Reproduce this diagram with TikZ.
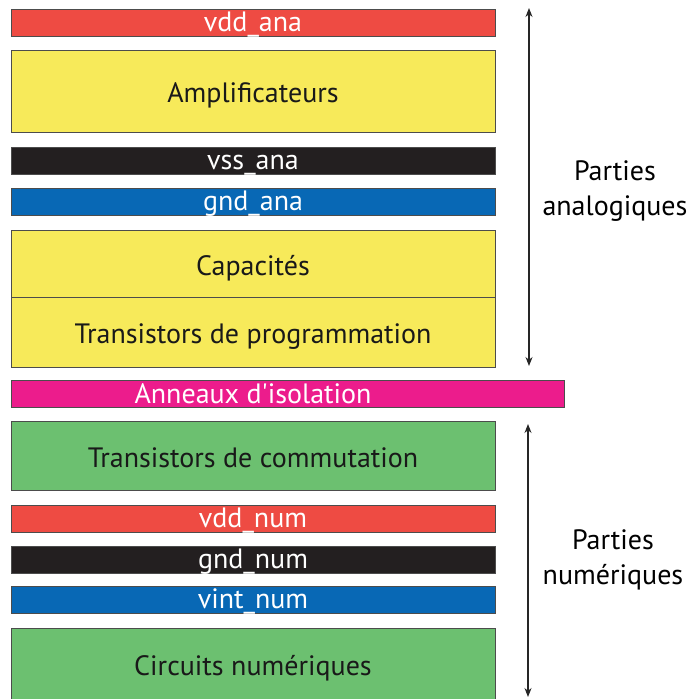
\documentclass[tikz,border=0pt]{standalone}
\usepackage{fontspec}
\setmainfont{PT Sans}
\usetikzlibrary{arrows.meta, positioning}
\definecolor{railred}{HTML}{EE4B43}
\definecolor{railblk}{HTML}{231F20}
\definecolor{railblue}{HTML}{0868B5}
\definecolor{ringpink}{HTML}{EC1C8C}
\definecolor{anayel}{HTML}{F7EA5A}
\definecolor{numgrn}{HTML}{6CC070}
\tikzset{
  bar/.style  = {draw=black!70, line width=0.8pt, minimum width=484pt,
                 inner sep=0pt, outer sep=0pt, text=white,
                 text height=17pt, text depth=0pt,
                 font=\fontsize{28}{30}\selectfont},
  rail/.style = {bar, minimum height=27pt},
  blk/.style  = {bar, text=black!90, text height=23pt},
  lbl/.style  = {align=center, font=\fontsize{28}{35}\selectfont},
  span/.style = {{Stealth[length=9pt, width=7pt]}-{Stealth[length=9pt, width=7pt]},
                 line width=1.2pt, draw=black!85},
}
\begin{document}
\begin{tikzpicture}[x=1pt, y=1pt]
    \useasboundingbox (0,0) rectangle (691,-699);
    % analog part
    \node[rail, fill=railred, anchor=north west] (vdda) at (11,-9) {vdd\_ana};
    \node[blk, fill=anayel, minimum height=82pt, below=14pt of vdda] (amp) {Amplificateurs};
    \node[rail, fill=railblk, below=15pt of amp] (vssa) {vss\_ana};
    \node[rail, fill=railblue, below=14pt of vssa] (gnda) {gnd\_ana};
    \node[blk, fill=anayel, minimum height=67pt, below=15pt of gnda] (cap) {Capacités};
    \node[blk, fill=anayel, minimum height=70pt, below=0pt of cap] (tprog) {Transistors de programmation};
    % isolation ring
    \node[rail, fill=ringpink, minimum width=553pt, text height=20pt,
      below right=13pt and 0pt of tprog.south west]
      (ring) {Anneaux d\textquotesingle isolation\hspace*{69pt}};
    % digital part
    \node[blk, fill=numgrn, minimum height=69pt, below right=14pt and 0pt of ring.south west] (tcom) {Transistors de commutation};
    \node[rail, fill=railred, below=15pt of tcom] (vddn) {vdd\_num};
    \node[rail, fill=railblk, below=14pt of vddn] (gndn) {gnd\_num};
    \node[rail, fill=railblue, below=13pt of gndn] (vintn) {vint\_num};
    \node[blk, fill=numgrn, minimum height=72pt, below=15pt of vintn] (circ) {Circuits numériques};
    % spans
    \coordinate (anatop) at (529,-8);
    \coordinate (anabot) at (529,-366);
    \coordinate (numtop) at (528,-424);
    \coordinate (numbot) at (528,-697);
    \draw[span] (anatop) -- (anabot);
    \draw[span] (numtop) -- (numbot);
    \node[lbl] (analbl) at (615,-191) {Parties\\analogiques};
    \node[lbl] (numlbl) at (613,-560) {Parties\\numériques};
\end{tikzpicture}
\end{document}
